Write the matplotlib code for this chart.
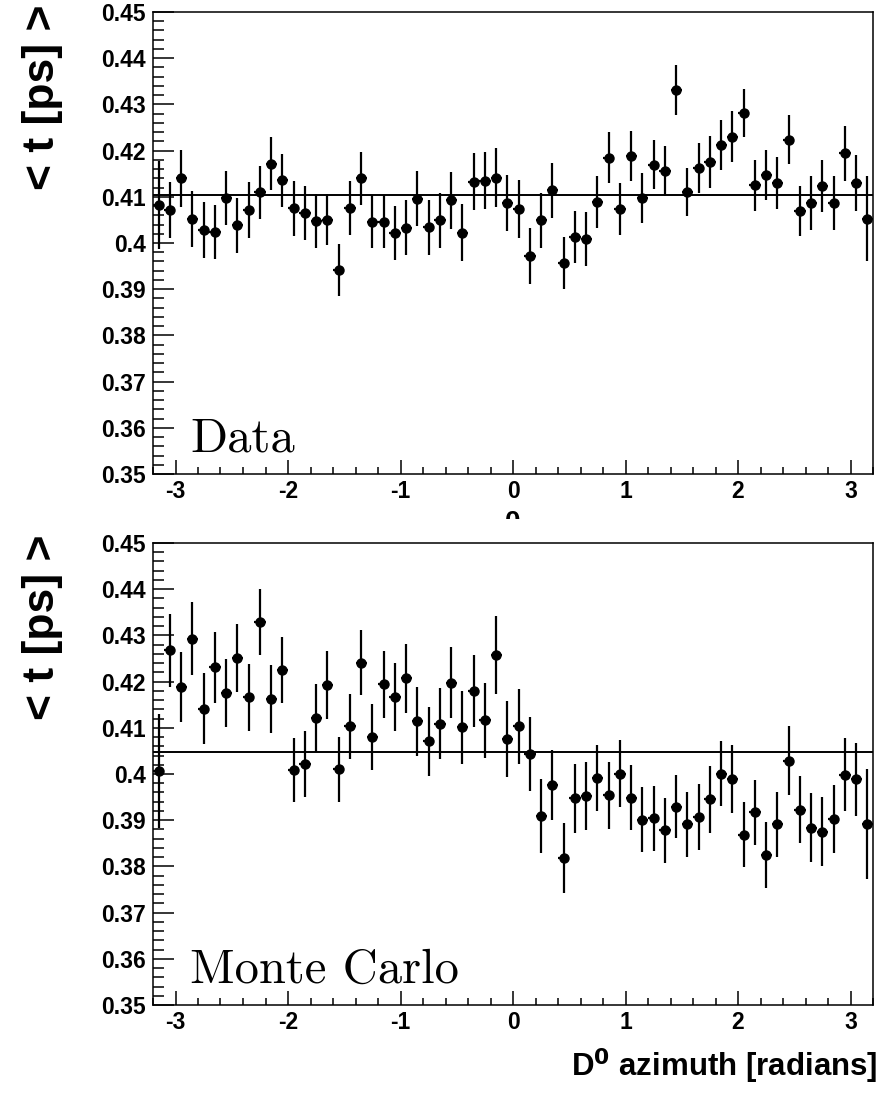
import numpy as np
import matplotlib.pyplot as plt
from matplotlib import font_manager
from matplotlib.ticker import MultipleLocator, FixedLocator
from matplotlib.transforms import Bbox, TransformedBbox

plt.rcParams['axes.unicode_minus'] = False
plt.rcParams['font.family'] = ['Liberation Sans', 'DejaVu Sans']
plt.rcParams['font.weight'] = 'bold'

# histogram binning: 64 bins of 0.1 rad between -3.2 and 3.2
bin_lo, bin_hi, bin_width = -3.2, 3.2, 0.1
phi = np.arange(bin_lo + bin_width / 2, bin_hi, bin_width)

# mean proper time per bin, data
data_mean = [0.4082, 0.4071, 0.4140, 0.4052, 0.4028, 0.4024, 0.4097, 0.4038,
             0.4071, 0.4110, 0.4172, 0.4136, 0.4075, 0.4065, 0.4047, 0.4050,
             0.3941, 0.4076, 0.4140, 0.4046, 0.4046, 0.4022, 0.4033, 0.4096,
             0.4034, 0.4049, 0.4092, 0.4022, 0.4133, 0.4135, 0.4141, 0.4087,
             0.4074, 0.3972, 0.4049, 0.4114, 0.3956, 0.4013, 0.4009, 0.4089,
             0.4185, 0.4073, 0.4188, 0.4097, 0.4169, 0.4156, 0.4331, 0.4110,
             0.4163, 0.4176, 0.4212, 0.4230, 0.4282, 0.4125, 0.4147, 0.4130,
             0.4224, 0.4069, 0.4087, 0.4123, 0.4086, 0.4194, 0.4130, 0.4053]
data_err = [0.0095, 0.0061, 0.0062, 0.0061, 0.0061, 0.0058, 0.0059, 0.0059,
            0.0060, 0.0057, 0.0057, 0.0057, 0.0059, 0.0058, 0.0058, 0.0055,
            0.0056, 0.0058, 0.0058, 0.0057, 0.0057, 0.0058, 0.0059, 0.0060,
            0.0060, 0.0060, 0.0062, 0.0062, 0.0062, 0.0062, 0.0064, 0.0061,
            0.0063, 0.0061, 0.0060, 0.0060, 0.0056, 0.0057, 0.0058, 0.0056,
            0.0056, 0.0056, 0.0054, 0.0054, 0.0053, 0.0054, 0.0054, 0.0052,
            0.0054, 0.0056, 0.0055, 0.0055, 0.0052, 0.0055, 0.0055, 0.0057,
            0.0054, 0.0054, 0.0058, 0.0056, 0.0058, 0.0060, 0.0060, 0.0091]
data_fit = 0.4103

# mean proper time per bin, Monte Carlo
mc_mean = [0.4007, 0.4268, 0.4188, 0.4293, 0.4141, 0.4231, 0.4175, 0.4251,
           0.4166, 0.4329, 0.4163, 0.4225, 0.4009, 0.4021, 0.4121, 0.4193,
           0.4010, 0.4103, 0.4241, 0.4080, 0.4194, 0.4167, 0.4207, 0.4114,
           0.4071, 0.4109, 0.4198, 0.4101, 0.4180, 0.4116, 0.4257, 0.4076,
           0.4103, 0.4043, 0.3909, 0.3976, 0.3818, 0.3947, 0.3952, 0.3991,
           0.3954, 0.4001, 0.3949, 0.3901, 0.3904, 0.3878, 0.3929, 0.3891,
           0.3907, 0.3945, 0.4001, 0.3989, 0.3869, 0.3917, 0.3825, 0.3891,
           0.4029, 0.3923, 0.3884, 0.3875, 0.3902, 0.3998, 0.3989, 0.3891]
mc_err = [0.0123, 0.0079, 0.0076, 0.0079, 0.0077, 0.0077, 0.0074, 0.0074,
          0.0072, 0.0072, 0.0074, 0.0071, 0.0070, 0.0071, 0.0074, 0.0073,
          0.0071, 0.0071, 0.0071, 0.0071, 0.0073, 0.0074, 0.0075, 0.0075,
          0.0075, 0.0077, 0.0077, 0.0079, 0.0078, 0.0081, 0.0084, 0.0082,
          0.0082, 0.0080, 0.0080, 0.0076, 0.0075, 0.0075, 0.0074, 0.0072,
          0.0073, 0.0072, 0.0070, 0.0070, 0.0070, 0.0070, 0.0068, 0.0071,
          0.0072, 0.0072, 0.0070, 0.0073, 0.0071, 0.0071, 0.0071, 0.0071,
          0.0075, 0.0073, 0.0075, 0.0075, 0.0074, 0.0079, 0.0079, 0.0119]
mc_fit = 0.4047

x_ticks = [-3, -2, -1, 0, 1, 2, 3]
y_ticks = [0.35, 0.36, 0.37, 0.38, 0.39, 0.40, 0.41, 0.42, 0.43, 0.44, 0.45]
y_ticklabels = ['0.35', '0.36', '0.37', '0.38', '0.39', '0.4',
                '0.41', '0.42', '0.43', '0.44', '0.45']

W, H = 882, 1094
fig = plt.figure(figsize=(W / 100, H / 100), dpi=100)


def px_axes(left, top, right, bottom):
    return fig.add_axes([left / W, 1 - bottom / H, (right - left) / W, (bottom - top) / H])


def draw_panel(ax, mean, err, fit):
    ax.errorbar(phi, mean, yerr=err, xerr=bin_width / 2, fmt='o', color='black',
                ms=6.5, elinewidth=1.6, capsize=0)
    ax.axhline(fit, color='black', lw=1.4)
    ax.set_xlim(bin_lo, bin_hi)
    ax.set_ylim(0.35, 0.45)
    ax.xaxis.set_major_locator(FixedLocator(x_ticks))
    ax.xaxis.set_minor_locator(MultipleLocator(0.2))
    ax.set_yticks(y_ticks)
    ax.set_yticklabels(y_ticklabels)
    ax.yaxis.set_minor_locator(MultipleLocator(0.002))
    ax.tick_params(axis='x', which='major', direction='in', length=10, width=1.1,
                   labelsize=16.5, pad=4, top=False)
    ax.tick_params(axis='x', which='minor', direction='in', length=5, width=1.1, top=False)
    ax.tick_params(axis='y', which='major', direction='in', length=15, width=1.1,
                   labelsize=16.5, pad=5, right=False)
    ax.tick_params(axis='y', which='minor', direction='in', length=8, width=1.1, right=False)
    for s in ax.spines.values():
        s.set_linewidth(1.1)


ax1 = px_axes(153, 12, 873, 474)
draw_panel(ax1, data_mean, data_err, data_fit)
ax2 = px_axes(153, 543, 873, 1005)
draw_panel(ax2, mc_mean, mc_err, mc_fit)

# y titles, aligned to the top end of each axis
for top in (4, 534):
    fig.text(43 / W, 1 - top / H, '< t [ps] >', rotation=90, ha='center', va='top',
             fontsize=32, fontweight='bold')

# panel labels
fig.text(190 / W, 1 - 452 / H, 'Data', family='cmr10', fontweight='normal', fontsize=35)
fig.text(190 / W, 1 - 983 / H, 'Monte Carlo', family='cmr10', fontweight='normal', fontsize=35)

# x title (condensed face if available)
names = {f.name for f in font_manager.fontManager.ttflist}
if 'Liberation Sans Narrow' in names:
    xt_family, xt_size = ['Liberation Sans Narrow', 'Liberation Sans'], 26
else:
    xt_family, xt_size = ['Liberation Sans', 'DejaVu Sans'], 22.5
fig.text(878 / W, 1 - 1076 / H, r'D$^{\mathbf{0}}$ azimuth [radians]', family=xt_family,
         fontsize=xt_size, fontweight='bold', ha='right', va='baseline',
         math_fontfamily='dejavusans')

# top of the upper pad's x title, hidden by the lower pad
t = fig.text(513 / W, 1 - 510 / H, '0', fontsize=20, fontweight='bold', ha='center', va='top')
t.set_clip_box(TransformedBbox(Bbox([[0, 1 - 519 / H], [1, 1]]), fig.transFigure))
t.set_clip_on(True)

fig.savefig('out.png', dpi=100)
